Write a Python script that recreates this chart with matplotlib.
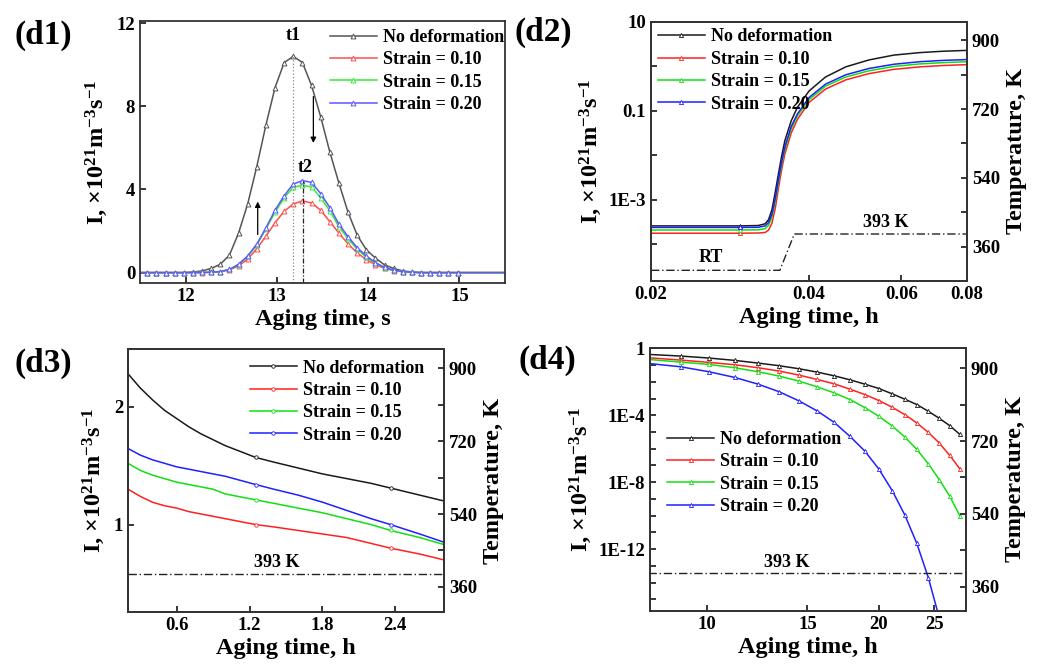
import numpy as np
import matplotlib
matplotlib.use("Agg")
import matplotlib.pyplot as plt
from matplotlib.ticker import FixedLocator, NullLocator, FuncFormatter

plt.rcParams['font.family'] = ['Liberation Serif', 'DejaVu Serif']
plt.rcParams['font.weight'] = 'bold'
plt.rcParams['axes.labelweight'] = 'bold'
plt.rcParams['mathtext.fontset'] = 'custom'
plt.rcParams['mathtext.rm'] = 'Liberation Serif:bold'
plt.rcParams['mathtext.bf'] = 'Liberation Serif:bold'
plt.rcParams['mathtext.it'] = 'Liberation Serif:bold:italic'

labels = ['No deformation', 'Strain = 0.10', 'Strain = 0.15', 'Strain = 0.20']

# (d1) nucleation rate vs aging time in s
t_s = [11.50, 11.58, 11.68, 11.78, 11.88, 11.98, 12.08, 12.18, 12.28, 12.38, 12.48,
       12.58, 12.68, 12.78, 12.88, 12.98, 13.08, 13.18, 13.28, 13.38, 13.48, 13.58,
       13.68, 13.78, 13.88, 13.98, 14.08, 14.18, 14.28, 14.38, 14.48, 14.58, 14.68,
       14.78, 14.88, 14.98, 15.50]
d1_none = [0, 0, 0, 0, 0, 0, 0.03, 0.08, 0.2, 0.4, 0.84, 1.9, 3.3, 5.1, 7.1, 8.9, 10.1,
           10.4, 10.1, 9.0, 7.5, 5.8, 4.3, 2.9, 1.8, 1.1, 0.7, 0.37, 0.2, 0.08, 0.03,
           0, 0, 0, 0, 0, 0]
d1_010 = [0, 0, 0, 0, 0, 0, 0, 0, 0.01, 0.04, 0.13, 0.32, 0.65, 1.15, 1.75, 2.4, 2.95,
          3.3, 3.45, 3.35, 3.0, 2.45, 1.9, 1.38, 0.95, 0.62, 0.38, 0.2, 0.1, 0.04, 0.015,
          0, 0, 0, 0, 0, 0]
d1_015 = [0, 0, 0, 0, 0, 0, 0, 0.01, 0.02, 0.05, 0.15, 0.38, 0.78, 1.33, 2.1, 2.9, 3.6,
          4.1, 4.2, 4.12, 3.6, 2.98, 2.2, 1.63, 1.12, 0.74, 0.45, 0.23, 0.11, 0.05, 0.02,
          0, 0, 0, 0, 0, 0]
d1_020 = [0, 0, 0, 0, 0, 0, 0, 0.01, 0.02, 0.05, 0.15, 0.4, 0.8, 1.37, 2.15, 3.0, 3.7,
          4.26, 4.42, 4.34, 3.8, 3.13, 2.33, 1.73, 1.2, 0.8, 0.48, 0.25, 0.12, 0.05, 0.02,
          0, 0, 0, 0, 0, 0]

# (d2) heating stage, h
t_d2 = [0.020, 0.025, 0.0295, 0.032, 0.033, 0.0335, 0.034, 0.0345, 0.035, 0.0355, 0.036,
        0.037, 0.038, 0.040, 0.043, 0.047, 0.052, 0.058, 0.065, 0.072, 0.080]
d2_none = [2.6e-4, 2.6e-4, 2.6e-4, 2.65e-4, 2.9e-4, 3.6e-4, 6e-4, 1.5e-3, 4e-3, 1.0e-2,
           2.2e-2, 6.0e-2, 0.12, 0.28, 0.58, 0.98, 1.4, 1.8, 2.05, 2.2, 2.3]
d2_010 = [1.78e-4, 1.78e-4, 1.78e-4, 1.8e-4, 1.85e-4, 2.1e-4, 3.0e-4, 6.5e-4, 1.9e-3,
          5e-3, 1.1e-2, 3.2e-2, 0.064, 0.155, 0.31, 0.5, 0.69, 0.86, 0.98, 1.05, 1.1]
d2_015 = [2.1e-4, 2.1e-4, 2.1e-4, 2.12e-4, 2.25e-4, 2.7e-4, 4.1e-4, 9.5e-4, 2.6e-3,
          6.5e-3, 1.4e-2, 4.0e-2, 0.077, 0.18, 0.36, 0.58, 0.8, 1.0, 1.14, 1.22, 1.28]
d2_020 = [2.4e-4, 2.4e-4, 2.4e-4, 2.42e-4, 2.6e-4, 3.1e-4, 4.8e-4, 1.1e-3, 3.0e-3,
          7.5e-3, 1.6e-2, 4.5e-2, 0.085, 0.2, 0.4, 0.65, 0.9, 1.12, 1.28, 1.37, 1.43]
temp_t_d2 = [0.020, 0.0352, 0.0375, 0.080]
temp_K_d2 = [298, 298, 393, 393]

# (d3) isothermal aging, h
t_d3 = [0.2, 0.3, 0.4, 0.5, 0.6, 0.7, 0.8, 0.9, 1.0, 1.25, 1.4, 1.6, 1.8, 2.0, 2.2,
        2.36, 2.6, 2.8]
d3_none = [2.28, 2.16, 2.06, 1.97, 1.90, 1.83, 1.77, 1.72, 1.67, 1.57, 1.53, 1.48, 1.43,
           1.39, 1.35, 1.31, 1.25, 1.20]
d3_010 = [1.30, 1.24, 1.19, 1.16, 1.14, 1.11, 1.09, 1.07, 1.05, 1.00, 0.98, 0.95, 0.92,
          0.89, 0.84, 0.80, 0.75, 0.70]
d3_015 = [1.52, 1.46, 1.42, 1.39, 1.36, 1.34, 1.32, 1.30, 1.26, 1.21, 1.18, 1.14, 1.10,
          1.05, 1.00, 0.95, 0.89, 0.83]
d3_020 = [1.646, 1.59, 1.55, 1.52, 1.49, 1.47, 1.45, 1.43, 1.41, 1.34, 1.30, 1.25, 1.19,
          1.12, 1.05, 1.00, 0.92, 0.85]
temp_t_d3 = [0.2, 2.8]
temp_K_d3 = [393, 393]

# (d4) long aging, h
t_d4 = [7.9, 9.0, 10.1, 11.2, 12.3, 13.4, 14.5, 15.6, 16.7, 17.8, 18.9, 20.0, 21.1,
        22.2, 23.3, 24.4, 25.5, 26.6, 27.7]
d4_none = [10**-0.36, 10**-0.46, 10**-0.58, 10**-0.72, 10**-0.88, 10**-1.04, 10**-1.22,
           10**-1.42, 10**-1.64, 10**-1.88, 10**-2.14, 10**-2.4, 10**-2.72, 10**-3.04,
           10**-3.36, 10**-3.76, 10**-4.18, 10**-4.62, 10**-5.14]
d4_010 = [10**-0.56, 10**-0.7, 10**-0.84, 10**-0.98, 10**-1.16, 10**-1.36, 10**-1.6,
          10**-1.86, 10**-2.12, 10**-2.44, 10**-2.76, 10**-3.12, 10**-3.52, 10**-3.96,
          10**-4.46, 10**-5.02, 10**-5.66, 10**-6.4, 10**-7.2]
d4_015 = [10**-0.66, 10**-0.82, 10**-0.96, 10**-1.16, 10**-1.4, 10**-1.66, 10**-1.96,
          10**-2.3, 10**-2.66, 10**-3.06, 10**-3.54, 10**-4.06, 10**-4.64, 10**-5.3,
          10**-6.04, 10**-6.9, 10**-7.84, 10**-8.84, 10**-10.0]
d4_020 = [10**-0.9, 10**-1.1, 10**-1.4, 10**-1.74, 10**-2.14, 10**-2.6, 10**-3.14,
          10**-3.74, 10**-4.42, 10**-5.26, 10**-6.14, 10**-7.22, 10**-8.5, 10**-9.96,
          10**-11.66, 10**-13.7, 10**-16.1]
temp_t_d4 = [7.9, 28.4]
temp_K_d4 = [393, 393]

colors_light = ['#555555', '#ff4d4d', '#33ee33', '#5a5aff']
colors = ['#1a1a1a', '#ff2020', '#10e010', '#2020ff']

W, H = 1041, 670
fig = plt.figure(figsize=(W / 100, H / 100), dpi=100)


def box(l, t, r, b):
    return [l / W, 1 - b / H, (r - l) / W, (b - t) / H]


ylab = 'I, ×10$^{21}$m$^{-3}$s$^{-1}$'
tick_fs = 13.5
lab_fs = 17.5
txt_fs = 13


def style(ax):
    ax.tick_params(direction='in', labelsize=tick_fs, width=1.1, length=4, which='both')
    for s in ax.spines.values():
        s.set_linewidth(1.3)
        s.set_color('#333333')


def add_legend(ax, fx, fy):
    ax.legend(loc='upper left', bbox_to_anchor=(fx, fy), frameon=False, fontsize=txt_fs,
              handlelength=2.6, handletextpad=0.35, labelspacing=0.3,
              borderpad=0, borderaxespad=0)


def twin_temp(ax, tx, ty, lo, hi):
    tw = ax.twinx()
    tw.plot(tx, ty, color='#222222', lw=1.0, ls=(0, (6, 2, 1, 2)))
    tw.set_ylim(lo, hi)
    tw.yaxis.set_major_locator(FixedLocator([360, 540, 720, 900]))
    tw.yaxis.set_minor_locator(FixedLocator([450, 630, 810]))
    tw.set_ylabel('Temperature, K', fontsize=lab_fs, labelpad=4)
    style(tw)
    return tw


# ---------- d1
ax1 = fig.add_axes(box(140, 21, 505, 283))
for y, c, lab in zip([d1_none, d1_010, d1_015, d1_020], colors_light, labels):
    ax1.plot(t_s, y, color=c, lw=1.1, marker='^', ms=3.5, mfc='white', mec=c, mew=0.7,
             markevery=slice(1, -1), label=lab)
ax1.plot([13.18, 13.18], [-0.5, 10.4], color='#888888', lw=0.9, ls=':')
ax1.plot([13.29, 13.29], [-0.5, 4.42], color='#222222', lw=0.9, ls=(0, (4, 1.5, 1, 1.5)))
ax1.text(13.18, 11.0, 't1', ha='center', va='bottom', fontsize=txt_fs)
ax1.text(13.31, 4.65, 't2', ha='center', va='bottom', fontsize=txt_fs)
ax1.annotate('', xy=(13.4, 6.1), xytext=(13.4, 8.6),
             arrowprops=dict(arrowstyle='-|>', color='black', lw=0.9, mutation_scale=8))
ax1.annotate('', xy=(12.79, 3.55), xytext=(12.79, 1.7),
             arrowprops=dict(arrowstyle='-|>', color='black', lw=0.9, mutation_scale=8))
ax1.set_xlim(11.5, 15.5)
ax1.set_ylim(-0.5, 12.1)
ax1.set_xticks([12, 13, 14, 15])
ax1.set_yticks([0, 4, 8, 12])
ax1.set_xlabel('Aging time, s', fontsize=lab_fs, labelpad=3)
ax1.set_ylabel(ylab, fontsize=lab_fs, labelpad=5)
style(ax1)
add_legend(ax1, 0.52, 0.97)
fig.text(43 / W, 1 - 35 / H, '(d1)', fontsize=24, ha='center', va='center')

# ---------- d2
ax2 = fig.add_axes(box(651, 22, 967, 281))
for y, c, lab in zip([d2_none, d2_010, d2_015, d2_020], colors, labels):
    ax2.plot(t_d2, y, color=c, lw=1.1, marker='^', ms=3, mfc='white', mec=c, mew=0.6,
             markevery=[2], label=lab)
ax2.set_xscale('log')
ax2.set_yscale('log')
ax2.set_xlim(0.02, 0.08)
ax2.set_ylim(1.5e-5, 10)
ax2.xaxis.set_major_locator(FixedLocator([0.02, 0.04, 0.06, 0.08]))
ax2.xaxis.set_minor_locator(NullLocator())
ax2.xaxis.set_major_formatter(FuncFormatter(lambda v, p: '%g' % v))
ax2.yaxis.set_major_locator(FixedLocator([1e-4, 1e-3, 1e-2, 1e-1, 1, 10]))
ax2.yaxis.set_minor_locator(NullLocator())
d2_lab = {1: '10', -1: '0.1', -3: '1E-3'}
ax2.yaxis.set_major_formatter(FuncFormatter(lambda v, p: d2_lab.get(int(round(np.log10(v))), '')))
ax2.set_xlabel('Aging time, h', fontsize=lab_fs, labelpad=3)
ax2.set_ylabel(ylab, fontsize=lab_fs, labelpad=3)
style(ax2)
add_legend(ax2, 0.022, 0.975)
tw2 = twin_temp(ax2, temp_t_d2, temp_K_d2, 270, 948)
tw2.text(0.026, 308, 'RT', ha='center', va='bottom', fontsize=txt_fs)
tw2.text(0.056, 400, '393 K', ha='center', va='bottom', fontsize=txt_fs)
fig.text(543 / W, 1 - 32 / H, '(d2)', fontsize=24, ha='center', va='center')

# ---------- d3
ax3 = fig.add_axes(box(128, 349, 444, 612))
for y, c, lab in zip([d3_none, d3_010, d3_015, d3_020], colors, labels):
    ax3.plot(t_d3, y, color=c, lw=1.1, marker='o', ms=2.5, mfc='white', mec=c, mew=0.6,
             markevery=[9, 15], label=lab)
ax3.set_xlim(0.2, 2.8)
ax3.set_ylim(0.258, 2.49)
ax3.set_xticks([0.6, 1.2, 1.8, 2.4])
ax3.set_yticks([1, 2])
ax3.set_xlabel('Aging time, h', fontsize=lab_fs, labelpad=3)
ax3.set_ylabel(ylab, fontsize=lab_fs, labelpad=5)
style(ax3)
add_legend(ax3, 0.385, 0.96)
tw3 = twin_temp(ax3, temp_t_d3, temp_K_d3, 298, 948)
tw3.text(1.42, 400, '393 K', ha='center', va='bottom', fontsize=txt_fs)
fig.text(43 / W, 1 - 363 / H, '(d3)', fontsize=24, ha='center', va='center')

# ---------- d4
ax4 = fig.add_axes(box(650, 348, 966, 611))
for y, c, lab in zip([d4_none, d4_010, d4_015, d4_020], colors, labels):
    ax4.plot(t_d4[:len(y)], y, color=c, lw=1.1, marker='^', ms=3, mfc='white', mec=c,
             mew=0.6, markevery=slice(1, None), label=lab)
ax4.set_xscale('log')
ax4.set_yscale('log')
ax4.set_xlim(7.96, 28.4)
ax4.set_ylim(10**-15.7, 1.05)
ax4.xaxis.set_major_locator(FixedLocator([10, 15, 20, 25]))
ax4.xaxis.set_minor_locator(NullLocator())
ax4.xaxis.set_major_formatter(FuncFormatter(lambda v, p: '%g' % v))
ax4.yaxis.set_major_locator(FixedLocator([10.0**k for k in range(-15, 1)]))
ax4.yaxis.set_minor_locator(NullLocator())
d4_lab = {0: '1', -4: '1E-4', -8: '1E-8', -12: '1E-12'}
ax4.yaxis.set_major_formatter(FuncFormatter(lambda v, p: d4_lab.get(int(round(np.log10(v))), '')))
ax4.set_xlabel('Aging time, h', fontsize=lab_fs, labelpad=3)
ax4.set_ylabel(ylab, fontsize=lab_fs, labelpad=3)
style(ax4)
add_legend(ax4, 0.054, 0.685)
tw4 = twin_temp(ax4, temp_t_d4, temp_K_d4, 300, 950)
tw4.text(13.8, 400, '393 K', ha='center', va='bottom', fontsize=txt_fs)
fig.text(547 / W, 1 - 360 / H, '(d4)', fontsize=24, ha='center', va='center')

fig.savefig('out.png', dpi=100)
